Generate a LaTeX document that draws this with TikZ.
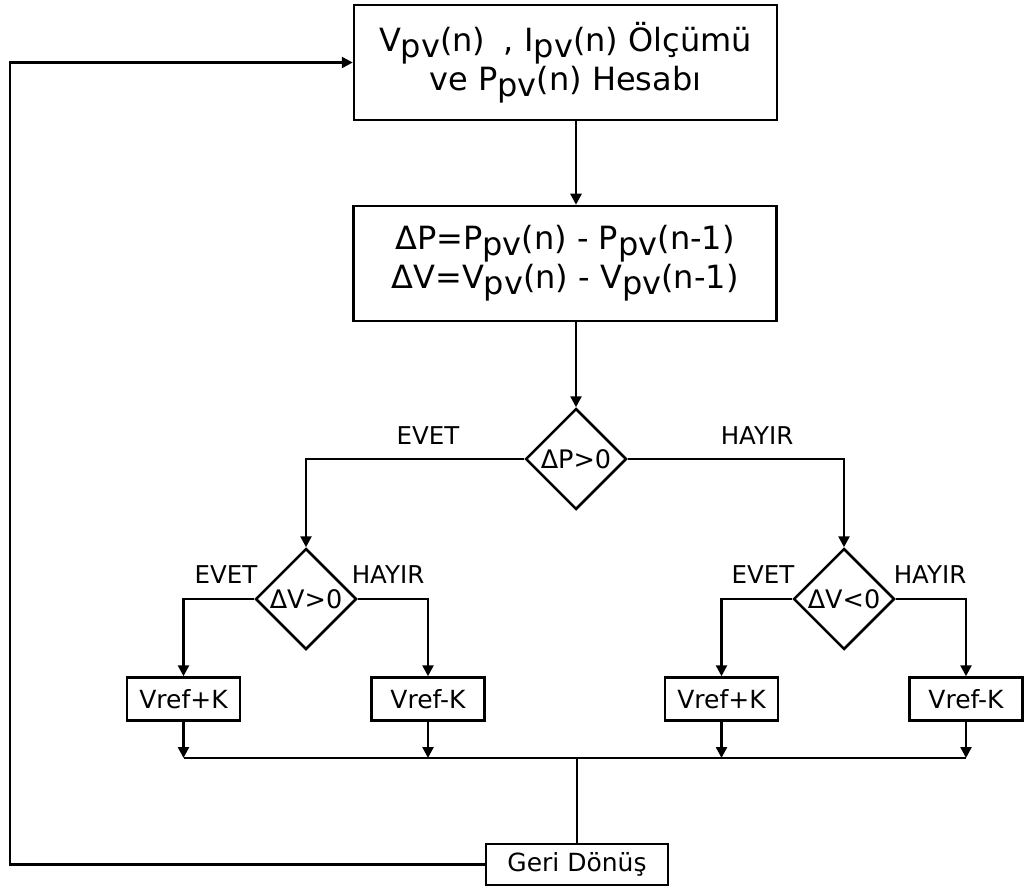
\documentclass[tikz,border=0pt]{standalone}
\usepackage{fontspec}
\setmainfont{DejaVu Sans}
\usetikzlibrary{shapes.geometric,arrows.meta}
\newcommand{\pv}{\raisebox{-0.18em}{pv}}

\begin{document}
\begin{tikzpicture}[x=1pt,y=-1pt,
  line width=2.5pt,
  ok/.style={-{Triangle[length=11pt,width=11pt]}},
  kutu/.style={draw,rectangle,inner sep=0pt,align=center},
  buyuk/.style={kutu,minimum width=423pt,minimum height=115pt,font=\fontsize{32}{39}\selectfont},
  kucuk/.style={kutu,minimum width=113pt,minimum height=43pt,font=\fontsize{25}{28}\selectfont},
  karar/.style={draw,diamond,inner sep=0pt,minimum size=101pt,font=\fontsize{25.5}{28}\selectfont},
  etiket/.style={font=\fontsize{24.5}{28}\selectfont},
]
\useasboundingbox (0,0) rectangle (1024,890);

% kutular
\node[buyuk] (olcum) at (565.5,62.5) {V\pv(n)\hspace{0.55em},\hspace{0.35em}I\pv(n) Ölçümü\\ve P\pv(n) Hesabı};
\node[buyuk] (fark) at (565,263.5) {ΔP=P\pv(n) - P\pv(n-1)\\ΔV=V\pv(n) - V\pv(n-1)};
\node[karar] (dP) at (576,459) {ΔP>0};
\node[karar] (dVa) at (306,599) {ΔV>0};
\node[karar] (dVb) at (844,599) {ΔV<0};
\node[kucuk] (r1) at (183.5,699) {Vref+K};
\node[kucuk] (r2) at (428,699) {Vref-K};
\node[kucuk] (r3) at (721.5,699) {Vref+K};
\node[kucuk] (r4) at (966,699) {Vref-K};
\node[kutu,minimum width=182pt,minimum height=41pt,font=\fontsize{25}{28}\selectfont] (geri) at (577,864.5) {Geri Dönüş};
\coordinate (birles) at (577,758);
\coordinate (donus) at (10,62.5);

% etiketler
\node[etiket] (e1) at (428,436) {EVET};
\node[etiket] (h1) at (757,436) {HAYIR};
\node[etiket] (e2) at (226,575) {EVET};
\node[etiket] (h2) at (388,575) {HAYIR};
\node[etiket] (e3) at (763,575) {EVET};
\node[etiket] (h3) at (930,575) {HAYIR};

% baglantilar
\draw[ok] (olcum.south -| dP) -- (fark.north -| dP);
\draw[ok] (fark.south -| dP) -- (dP.north);
\draw[ok] (dP.west) -| (dVa.north);
\draw[ok] (dP.east) -| (dVb.north);
\draw[ok] (dVa.west) -| (r1.north);
\draw[ok] (dVa.east) -| (r2.north);
\draw[ok] (dVb.west) -| (r3.north);
\draw[ok] (dVb.east) -| (r4.north);
\foreach \r in {r1,r2,r3,r4}
  \draw[ok] (\r.south) -- (\r.south |- birles);
\draw (r1.south |- birles) -- (r4.south |- birles);
\draw (birles) -- (geri.north);
\draw[ok] (geri.west) -| (donus) -- (olcum.west);
\end{tikzpicture}
\end{document}
